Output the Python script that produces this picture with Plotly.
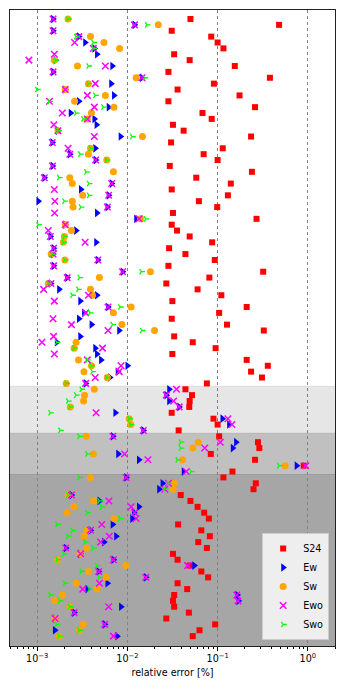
import plotly.graph_objects as go
import numpy as np

# row index (top to bottom)
rows = list(range(106))

s24 = [0.05, 0.48, 0.031, 0.085, 0.10, 0.116, 0.033, 0.049, 0.155, 0.0285,
       0.38, 0.091, 0.036, 0.175, 0.0285, 0.26, 0.068, 0.086, 0.032, 0.042,
       0.235, 0.0305, 0.114, 0.07, 0.10, 0.0295, 0.24, 0.058, 0.14, 0.031,
       0.13, 0.062, 0.099, 0.032, 0.27, 0.031, 0.0355, 0.049, 0.087, 0.029,
       0.044, 0.093, 0.0285, 0.32, 0.081, 0.027, 0.06, 0.11, 0.0315, 0.21,
       0.104, 0.031, 0.127, 0.325, 0.033, 0.053, 0.095, 0.0315, 0.21, 0.36,
       0.235, 0.31, 0.076, 0.044, 0.052, 0.049, 0.0485, 0.031, 0.09, 0.10,
       0.037, 0.104, 0.28, 0.29, 0.084, 0.26, 0.9, 0.146, 0.116, 0.265,
       0.25, 0.039, 0.05, 0.06, 0.071, 0.08, 0.0365, 0.066, 0.082, 0.061,
       0.076, 0.032, 0.036, 0.049, 0.066, 0.0785, 0.036, 0.046, 0.033, 0.032,
       0.033, 0.048, 0.027, 0.094, 0.063, 0.053]

ew = [0.0015, 0.012, 0.0015, 0.0029, 0.0034, 0.0043, 0.0046, 0.0016, 0.0068, 0.0015,
      0.0145, 0.0066, 0.00205, 0.0071, 0.0029, 0.0062, 0.00235, 0.0043, 0.00455, 0.0017,
      0.0084, 0.00147, 0.0044, 0.0023, 0.00445, 0.00148, None, 0.0012, 0.0067, 0.00305,
      0.0062, 0.00103, 0.006, 0.0046, 0.0125, 0.00205, 0.0027, 0.0014, 0.0045, 0.00152,
      0.0015, 0.0047, 0.00152, 0.00885, 0.00215, 0.00142, 0.00175, 0.0046, 0.003, 0.0061,
      0.0033, 0.0029, 0.004, 0.0081, 0.003, 0.00165, 0.0044, 0.0046, 0.0051, 0.01,
      0.0078, 0.0064, 0.00345, 0.029, 0.027, 0.029, 0.0375, 0.00735, 0.113, 0.134,
      0.015, 0.0069, 0.16, 0.147, 0.0079, 0.0134, 0.75, 0.042, 0.0097, 0.0245,
      0.0225, 0.0024, 0.0049, 0.0134, 0.0118, 0.0113, 0.00685, 0.0039, 0.0075, 0.0055,
      0.00208, 0.003, 0.007, 0.055, 0.0048, 0.016, 0.006, 0.0036, 0.165, 0.17,
      0.0085, 0.00257, 0.00158, 0.0056, 0.00157, 0.0077]

sw = [0.0022, 0.022, None, 0.0039, 0.0055, 0.0082, None, 0.00155, 0.0028, None,
      0.0125, 0.0037, 0.00205, 0.0057, 0.0026, 0.0071, 0.004, 0.0036, None, 0.0017,
      0.0147, None, 0.0039, 0.0037, 0.0059, None, 0.007, 0.0023, 0.00245, None,
      0.0032, 0.00245, 0.0025, None, 0.014, 0.00205, 0.0024, 0.002, 0.00195, None,
      0.00143, 0.00203, None, 0.018, 0.0049, 0.00133, 0.0039, 0.0041, None, 0.011,
      0.007, None, 0.0087, 0.02, None, 0.0027, 0.00257, None, 0.00287, 0.004,
      0.0033, 0.006, 0.0021, 0.0043, 0.00335, 0.00327, 0.00233, None, 0.0105, 0.0109,
      None, 0.0035, 0.061, 0.053, 0.0042, 0.041, 0.56, None, 0.0039, 0.033,
      0.032, 0.0022, 0.0042, 0.00255, 0.00215, 0.0071, None, 0.0036, 0.0033, None,
      0.0035, 0.00297, 0.00168, 0.0096, 0.0037, 0.0058, 0.0027, 0.0046, 0.0019, 0.00157,
      0.0023, None, 0.00158, 0.00325, 0.00293, 0.00175]

ewo = [0.0015, 0.012, 0.0015, 0.0029, 0.0026, 0.0042, 0.00155, 0.00081, 0.0057, 0.0015,
       0.0145, 0.0044, 0.00205, 0.0036, 0.00137, 0.0043, 0.0019, 0.0036, 0.00153, 0.0017,
       0.0043, 0.00147, 0.0022, 0.0023, 0.00445, 0.00148, None, 0.0012, 0.0067, 0.00155,
       0.0062, 0.00157, 0.006, 0.00156, 0.0135, 0.00205, 0.00133, 0.0014, 0.0034, 0.00152,
       0.0015, 0.0047, 0.00152, 0.00885, 0.00215, 0.00142, 0.00118, 0.0037, 0.00155, 0.0061,
       0.00345, 0.0015, 0.0024, 0.0061, 0.00152, 0.00113, 0.0053, 0.00155, 0.0036, 0.0085,
       0.0081, 0.0044, 0.00345, 0.035, 0.027, 0.0325, 0.0375, 0.0045, 0.13, 0.144,
       0.015, 0.0069, 0.107, 0.072, 0.0093, 0.0169, 0.95, 0.045, 0.0097, 0.0285,
       0.026, 0.0024, 0.00625, 0.011, 0.012, 0.0125, 0.0052, 0.0039, 0.0063, 0.00505,
       0.00208, 0.00303, 0.007, 0.0465, 0.0048, 0.016, 0.0049, 0.0032, 0.163, 0.168,
       0.0062, 0.00257, 0.00158, 0.0056, None, 0.007]

swo = [0.0022, 0.0165, None, 0.0027, 0.0042, 0.0042, None, 0.0016, 0.0037, None,
       0.0155, 0.0037, 0.001, 0.0044, 0.00137, 0.0054, 0.0027, 0.00325, None, 0.0017,
       0.0113, None, 0.0039, 0.003, 0.0059, None, 0.0035, 0.00175, 0.00375, None,
       0.00375, 0.002, 0.00305, None, 0.016, 0.00103, None, 0.002, 0.00195, None,
       0.00148, 0.00203, None, 0.0143, 0.00295, 0.00133, 0.00285, 0.00245, None, 0.0083,
       0.00385, None, 0.00685, 0.0145, None, 0.00165, 0.00257, None, 0.0036, 0.004,
       0.0041, 0.0059, 0.0021, 0.0031, 0.0027, 0.0022, 0.00233, 0.0014, 0.0105, 0.0109,
       0.0018, 0.00293, 0.039, 0.039, 0.0036, 0.036, 0.48, 0.051, 0.00295, 0.0285,
       0.026, 0.0022, 0.0049, 0.0052, 0.0036, 0.0083, 0.00167, 0.00247, 0.0022, 0.0034,
       0.0042, 0.00198, 0.00168, 0.0046, 0.0031, 0.0049, 0.00203, 0.0038, 0.0014, 0.00178,
       0.0023, None, None, 0.00164, 0.00293, 0.00175]

# group boundaries (between rows) for shaded bands
band_edges = [62.5, 70.5, 77.5]
band_colors = ["#e6e6e6", "#c0c0c0", "#a6a6a6"]
band_edge_colors = ["#dcdcdc", "#b6b6b6", "#9c9c9c"]

x_ticks = [1e-3, 1e-2, 1e-1, 1e0]
x_ticktext = ["10<sup>\u22123</sup>", "10<sup>\u22122</sup>", "10<sup>\u22121</sup>", "10<sup>0</sup>"]

FONT = "DejaVu Sans"
fig = go.Figure()

fig.add_trace(go.Scatter(x=s24, y=rows, mode="markers", name="S24",
                         marker=dict(symbol="square", size=6, color="#ff0000", line=dict(width=0))))
fig.add_trace(go.Scatter(x=ew, y=rows, mode="markers", name="Ew",
                         marker=dict(symbol="triangle-right", size=7.5, color="#0000ff", line=dict(width=0))))
fig.add_trace(go.Scatter(x=sw, y=rows, mode="markers", name="Sw",
                         marker=dict(symbol="circle", size=7, color="#ffa500", line=dict(width=0))))
fig.add_trace(go.Scatter(x=ewo, y=rows, mode="markers", name="Ewo",
                         marker=dict(symbol="x-thin", size=6.5, color="#ff00ff",
                                     line=dict(width=1.5, color="#ff00ff"))))
fig.add_trace(go.Scatter(x=swo, y=rows, mode="markers", name="Swo",
                         marker=dict(symbol="y-right", size=4.5, color="#00ff00",
                                     line=dict(width=1.3, color="#00ff00"))))

n = len(rows)
y_top = -1.53
y_bot = n - 1 + 1.68
edges = band_edges + [y_bot]
shapes = []
for i in range(3):
    shapes.append(dict(type="rect", xref="x domain", yref="y", x0=0, x1=1,
                       y0=edges[i], y1=edges[i + 1], fillcolor=band_colors[i],
                       line=dict(width=0), layer="below"))
    shapes.append(dict(type="line", xref="x domain", yref="y", x0=0, x1=1,
                       y0=edges[i], y1=edges[i], line=dict(width=1, color=band_edge_colors[i]),
                       layer="below"))

minor_vals = []
for d in [1e-4, 1e-3, 1e-2, 1e-1, 1e0]:
    for k in range(2, 10):
        v = k * d
        if 5e-4 <= v <= 2:
            minor_vals.append(v)

fig.update_layout(
    width=345, height=689,
    margin=dict(l=10, r=10, t=10, b=43),
    paper_bgcolor="white", plot_bgcolor="white",
    font=dict(family=FONT, size=9.6, color="black"),
    shapes=shapes,
    showlegend=True,
    legend=dict(x=0.982, xanchor="right", y=0.0094, yanchor="bottom",
                bgcolor="#eeeeee", bordercolor="#cccccc", borderwidth=1,
                font=dict(family=FONT, size=9.6), itemwidth=30,
                tracegroupgap=0),
    xaxis=dict(type="log", range=[np.log10(5e-4), np.log10(2)],
               tickmode="array", tickvals=x_ticks, ticktext=x_ticktext,
               ticks="outside", ticklen=3.5, tickwidth=0.8, tickcolor="black",
               showgrid=True, gridcolor="#808080", griddash="dot", gridwidth=1,
               showline=True, mirror=True, linecolor="#222222", linewidth=1,
               zeroline=False,
               minor=dict(ticks="outside", ticklen=2, tickwidth=0.6, tickcolor="black",
                          tickmode="array", tickvals=minor_vals, showgrid=False),
               title=dict(text="relative error [%]", standoff=6,
                          font=dict(family=FONT, size=9.6))),
    yaxis=dict(range=[y_bot, y_top], showticklabels=False, ticks="",
               showgrid=False, zeroline=False,
               showline=True, mirror=True, linecolor="#222222", linewidth=1),
)

fig.write_html("out.html",
               config={"displayModeBar": False},
               post_script="document.body.style.margin='0';document.body.style.overflow='hidden';")
